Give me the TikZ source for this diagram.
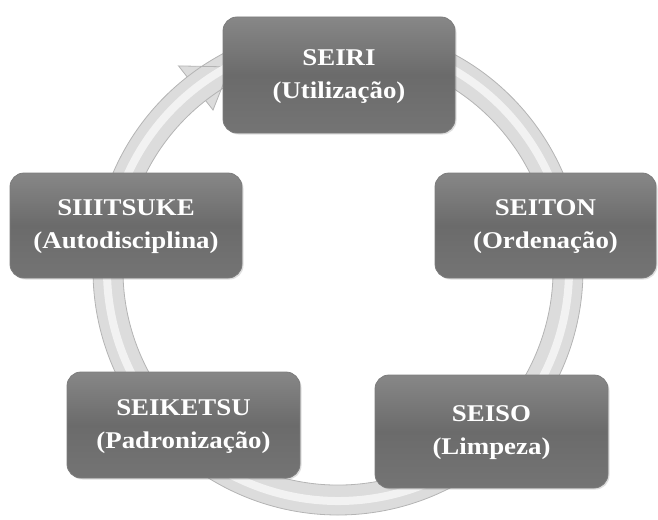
\documentclass[tikz,border=0pt]{standalone}
\usepackage{fontspec}
\setmainfont{Liberation Serif}
\usetikzlibrary{shadows,calc}
\definecolor{boxtop}{HTML}{878787}
\definecolor{boxmid}{HTML}{6B6B6B}
\definecolor{boxbot}{HTML}{747474}
\definecolor{boxedge}{HTML}{7C7C7C}
\definecolor{ringfill}{HTML}{DCDCDC}
\definecolor{ringedge}{HTML}{B4B4B4}
\definecolor{ringlight}{HTML}{F2F2F2}
\newcommand{\boxtext}[2]{\scalebox{1.12}[1]{\fontsize{24}{33}\selectfont\bfseries\def\arraystretch{1}\begin{tabular}{@{}c@{}}#1\\#2\end{tabular}}}
\begin{document}
\begin{tikzpicture}[x=1pt,y=1pt,
  stepbox/.style={rectangle, rounded corners=14pt, top color=boxtop, bottom color=boxbot, middle color=boxmid,
    draw=boxedge, line width=0.8pt, text=white, inner sep=0pt,
    drop shadow={shadow xshift=1.5pt, shadow yshift=-1.5pt, opacity=0.25}}]
\useasboundingbox (0,0) rectangle (658,-519);
% ring centre
\coordinate (c) at (338,-270);
% ring band with arrow head
\path[fill=ringfill, draw=ringedge, line width=0.8pt]
  ($(c)+(128:245)$) arc[start angle=128, end angle=-290, radius=245]
  -- ($(c)+(-290:215)$) arc[start angle=-290, end angle=128, radius=215]
  -- ($(c)+(128:203)$) -- ($(c)+(118:230)$) -- ($(c)+(128:259)$) -- cycle;
\draw[ringlight, line width=8pt] ($(c)+(126:231)$) arc[start angle=126, end angle=-290, radius=231];
% boxes
\node[stepbox, minimum width=232, minimum height=116] (seiri) at (339,-75) {\boxtext{SEIRI}{(Utilização)}};
\node[stepbox, minimum width=221, minimum height=105] (seiton) at (545.5,-225.5) {\boxtext{SEITON}{(Ordenação)}};
\node[stepbox, minimum width=233, minimum height=113] (seiso) at (491.5,-431.5) {\boxtext{SEISO}{(Limpeza)}};
\node[stepbox, minimum width=233, minimum height=106] (seiketsu) at (183.5,-425) {\boxtext{SEIKETSU}{(Padronização)}};
\node[stepbox, minimum width=232, minimum height=105] (shitsuke) at (126,-225.5) {\boxtext{SIIITSUKE}{(Autodisciplina)}};
\end{tikzpicture}
\end{document}
